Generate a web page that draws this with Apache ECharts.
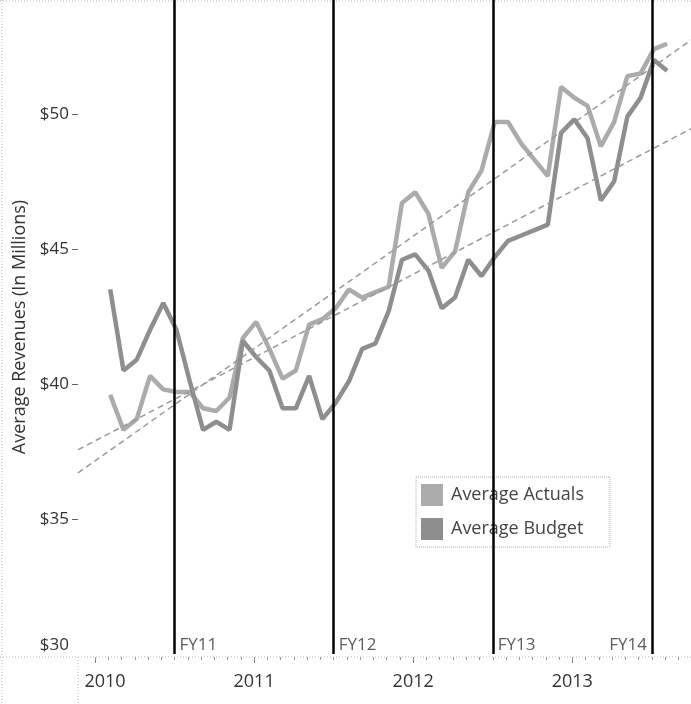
<!DOCTYPE html>
<html>
<head>
<meta charset="utf-8">
<script src="https://cdn.jsdelivr.net/npm/echarts@6/dist/echarts.min.js"></script>
<style>
html, body { margin: 0; padding: 0; background: #fff; }
#main { width: 691px; height: 704px; }
</style>
</head>
<body>
<div id="main"></div>
<script>
// monthly points, Feb 2010 .. Aug 2013
var months = [
  "2010-02", "2010-03", "2010-04", "2010-05", "2010-06", "2010-07", "2010-08", "2010-09", "2010-10", "2010-11", "2010-12",
  "2011-01", "2011-02", "2011-03", "2011-04", "2011-05", "2011-06", "2011-07", "2011-08", "2011-09", "2011-10", "2011-11", "2011-12",
  "2012-01", "2012-02", "2012-03", "2012-04", "2012-05", "2012-06", "2012-07", "2012-08", "2012-09", "2012-10", "2012-11", "2012-12",
  "2013-01", "2013-02", "2013-03", "2013-04", "2013-05", "2013-06", "2013-07", "2013-08"
];
var actuals = [
  39.6, 38.3, 38.7, 40.3, 39.8, 39.7, 39.7, 39.1, 39.0, 39.5, 41.7,
  42.3, 41.3, 40.2, 40.5, 42.2, 42.4, 42.8, 43.5, 43.2, 43.4, 43.6, 46.7,
  47.1, 46.3, 44.3, 44.9, 47.1, 47.9, 49.7, 49.7, 48.9, 48.3, 47.7, 51.0,
  50.6, 50.3, 48.8, 49.7, 51.4, 51.5, 52.4, 52.6
];
var budget = [
  43.5, 40.5, 40.9, 42.0, 43.0, 42.0, 40.1, 38.3, 38.6, 38.3, 41.6,
  41.0, 40.5, 39.1, 39.1, 40.3, 38.7, 39.3, 40.1, 41.3, 41.5, 42.7, 44.6,
  44.8, 44.2, 42.8, 43.2, 44.6, 44.0, 44.7, 45.3, 45.5, 45.7, 45.9, 49.3,
  49.8, 49.1, 46.8, 47.5, 49.9, 50.6, 52.0, 51.6
];
var fyNames = ["FY11", "FY12", "FY13", "FY14"];
var fyStarts = ["2010-07", "2011-07", "2012-07", "2013-07"];
var yearLabels = ["2010", "2011", "2012", "2013"];
var yTicks = [30, 35, 40, 45, 50];

// month index from Jan 2010
function monthIndex(s) {
  var p = s.split("-");
  return (Number(p[0]) - 2010) * 12 + (Number(p[1]) - 1);
}
var xMin = -1.28, xMax = 44.95;
var pointShift = 0.15;

function toPoints(vals) {
  return months.map(function (m, i) {
    return [monthIndex(m) + pointShift, vals[i]];
  });
}
function trend(vals) {
  var pts = toPoints(vals);
  var n = pts.length, sx = 0, sy = 0, sxx = 0, sxy = 0;
  pts.forEach(function (p) {
    sx += p[0]; sy += p[1]; sxx += p[0] * p[0]; sxy += p[0] * p[1];
  });
  var b = (n * sxy - sx * sy) / (n * sxx - sx * sx);
  var a = (sy - b * sx) / n;
  return [[xMin, a + b * xMin], [xMax, a + b * xMax]];
}

var yearTicks = yearLabels.map(function (y) { return (Number(y) - 2010) * 12; });
var monthTicks = [];
for (var k = 0; k <= 44; k++) monthTicks.push(k);

var myChart = echarts.init(document.getElementById("main"));
var font = "Open Sans";
var dotted = { stroke: "#b8b8b8", lineWidth: 1, lineDash: [1, 2] };

var option = {
  animation: false,
  textStyle: { fontFamily: font },
  grid: { left: 78, right: 0, top: 0, bottom: 50 },
  legend: {
    data: ["Average Actuals", "Average Budget"],
    orient: "vertical",
    left: 416,
    top: 477,
    icon: "rect",
    itemWidth: 22,
    itemHeight: 22,
    itemGap: 12,
    padding: [7, 26, 7, 5],
    borderColor: "#aaa",
    borderWidth: 1,
    borderType: "dotted",
    textStyle: { fontSize: 18, color: "#444", fontFamily: font, padding: [0, 0, 0, 3] }
  },
  graphic: [
    { type: "line", shape: { x1: 0, y1: 1, x2: 691, y2: 1 }, style: dotted },
    { type: "line", shape: { x1: 2, y1: 0, x2: 2, y2: 704 }, style: dotted },
    { type: "line", shape: { x1: 0, y1: 657, x2: 691, y2: 657 }, style: dotted },
    { type: "line", shape: { x1: 78, y1: 657, x2: 78, y2: 704 }, style: dotted }
  ],
  xAxis: [
    {
      type: "value",
      min: xMin,
      max: xMax,
      offset: 3,
      axisLine: { show: false, onZero: false },
      splitLine: { show: false },
      axisTick: { show: true, customValues: yearTicks, length: 6, lineStyle: { color: "#777" } },
      axisLabel: {
        customValues: yearTicks,
        margin: 16,
        fontSize: 18,
        color: "#333",
        formatter: function (v) {
          var y = String(2010 + Math.round(v / 12));
          return v === 0 ? "{first|" + y + "}" : y;
        },
        rich: { first: { fontSize: 18, color: "#333", padding: [0, 0, 0, 20] } }
      }
    },
    {
      type: "value",
      min: xMin,
      max: xMax,
      offset: 3,
      position: "bottom",
      axisLine: { show: false, onZero: false },
      splitLine: { show: false },
      axisTick: { show: true, customValues: monthTicks, length: 3, lineStyle: { color: "#999" } },
      axisLabel: { show: false }
    }
  ],
  yAxis: {
    type: "value",
    min: 30,
    max: 54.22,
    name: "Average Revenues (In Millions)",
    nameLocation: "middle",
    nameGap: 47,
    nameRotate: 90,
    nameTextStyle: { fontSize: 18, color: "#333" },
    axisLine: { show: false, onZero: false },
    splitLine: { show: false },
    axisTick: { show: true, customValues: yTicks.slice(1), length: 6, lineStyle: { color: "#666" } },
    axisLabel: {
      customValues: yTicks,
      margin: 9,
      fontSize: 17,
      color: "#333",
      formatter: function (v) {
        return v === 30 ? "{low|$30}" : "$" + v;
      },
      rich: { low: { fontSize: 17, color: "#333", padding: [0, 0, 18, 0] } }
    }
  },
  series: [
    {
      name: "Average Actuals",
      type: "line",
      data: toPoints(actuals),
      symbol: "none",
      color: "#ababab",
      lineStyle: { width: 4.5, color: "#ababab" },
      z: 2
    },
    {
      name: "Average Budget",
      type: "line",
      data: toPoints(budget),
      symbol: "none",
      color: "#8e8e8e",
      lineStyle: { width: 4.5, color: "#8e8e8e" },
      z: 2
    },
    {
      name: "Actuals Trend",
      type: "line",
      data: trend(actuals),
      symbol: "none",
      lineStyle: { width: 1.5, color: "#999", type: [6, 4] },
      z: 3
    },
    {
      name: "Budget Trend",
      type: "line",
      data: trend(budget),
      symbol: "none",
      lineStyle: { width: 1.5, color: "#999", type: [6, 4] },
      z: 3
    },
    {
      name: "FY",
      type: "scatter",
      symbolSize: 0,
      z: 5,
      data: fyStarts.map(function (s, i) {
        return {
          value: [monthIndex(s), 30.33],
          name: fyNames[i],
          label: { position: i === fyStarts.length - 1 ? "left" : "right" }
        };
      }),
      label: {
        show: true,
        distance: 5,
        fontSize: 17,
        color: "#333",
        formatter: "{b}"
      },
      markLine: {
        silent: true,
        symbol: "none",
        label: { show: false },
        lineStyle: { color: "#000", width: 2.5, type: "solid" },
        data: fyStarts.map(function (s) { return { xAxis: monthIndex(s) }; })
      }
    }
  ]
};
myChart.setOption(option);
</script>
</body>
</html>
